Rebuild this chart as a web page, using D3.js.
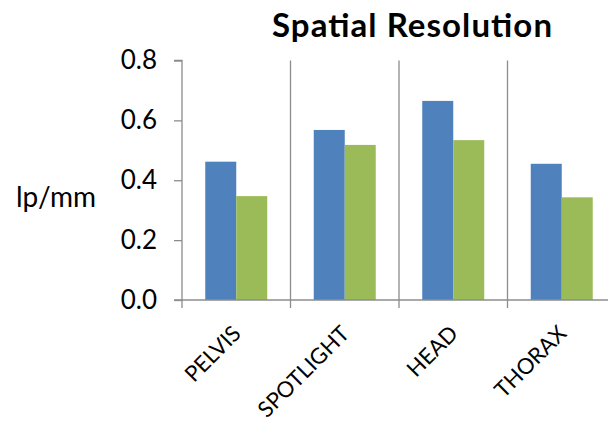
<!DOCTYPE html>
<html><head><meta charset="utf-8">
<script src="https://cdn.jsdelivr.net/npm/d3@7"></script>
<style>body{margin:0;background:#fff}svg{display:block}</style>
</head><body>
<svg id="c" width="608" height="426"></svg>
<script>
const categories = ["PELVIS", "SPOTLIGHT", "HEAD", "THORAX"];
const seriesNames = ["Series1", "Series2"];
const series1 = [0.462, 0.568, 0.665, 0.455];
const series2 = [0.347, 0.518, 0.534, 0.343];
const yTicks = [0.0, 0.2, 0.4, 0.6, 0.8];
const colors = ["#4F81BD", "#9BBB59"];

(function () {
const svg = d3.select("#c");
const font = "Lato, 'Open Sans', sans-serif";
const pLeft = 182, pTop = 60.5, pBottom = 300, bandW = 108.5;
const x = d3.scaleBand().domain(categories).range([pLeft, pLeft + bandW * categories.length]).padding(0);
const y = d3.scaleLinear().domain([0, 0.8]).range([pBottom, pTop]);
const xi = d3.scaleBand().domain(seriesNames).range([23.25, 85.25]).padding(0);
const axisColor = "#8c8c8c";

// vertical gridlines at category boundaries
svg.append("g").selectAll("line").data(categories.slice(1)).join("line")
  .attr("x1", d => x(d)).attr("x2", d => x(d))
  .attr("y1", pTop).attr("y2", pBottom)
  .attr("stroke", axisColor).attr("stroke-width", 1.3);

// bars
const data = categories.map((c, i) => ({c, vals: [series1[i], series2[i]]}));
const g = svg.append("g").selectAll("g").data(data).join("g")
  .attr("transform", d => `translate(${x(d.c)},0)`);
g.selectAll("rect").data(d => d.vals.map((v, j) => ({v, s: seriesNames[j], j}))).join("rect")
  .attr("x", d => xi(d.s)).attr("width", xi.bandwidth())
  .attr("y", d => y(d.v)).attr("height", d => pBottom - y(d.v))
  .attr("fill", d => colors[d.j]);

// y axis
const ya = svg.append("g").attr("transform", `translate(${pLeft},0)`)
  .call(d3.axisLeft(y).tickValues(yTicks).tickFormat(d3.format(".1f")).tickSize(8).tickPadding(17));
ya.select(".domain").attr("stroke", axisColor).attr("stroke-width", 1.3).attr("d", `M-8,${pTop}H0V${pBottom}`);
ya.selectAll(".tick line").attr("stroke", axisColor).attr("stroke-width", 1.3);
ya.selectAll(".tick text").attr("font-family", font).attr("font-size", 26).attr("fill", "#000");

// x axis
const xa = svg.append("g").attr("transform", `translate(0,${pBottom})`);
xa.append("line").attr("x1", pLeft - 8).attr("x2", 608).attr("stroke", axisColor).attr("stroke-width", 1.3);
xa.selectAll("line.t").data(categories).join("line").attr("class", "t")
  .attr("x1", d => x(d)).attr("x2", d => x(d)).attr("y1", 0).attr("y2", 8)
  .attr("stroke", axisColor).attr("stroke-width", 1.3);
xa.selectAll("text").data(categories).join("text")
  .attr("transform", d => `translate(${x(d) + x.bandwidth() / 2 + 6},35) rotate(-45)`)
  .attr("text-anchor", "end")
  .attr("font-family", font).attr("font-size", 22).attr("fill", "#000")
  .text(d => d);

// y label
svg.append("text").attr("x", 16).attr("y", 207).attr("font-family", font).attr("font-size", 28)
  .attr("fill", "#000").text("lp/mm");

// title
svg.append("text").attr("x", 272).attr("y", 37)
  .attr("font-family", font).attr("font-weight", "bold").attr("font-size", 33)
  .attr("textLength", 280).attr("lengthAdjust", "spacing")
  .attr("fill", "#000").text("Spatial Resolution");
})();
</script>
</body></html>
